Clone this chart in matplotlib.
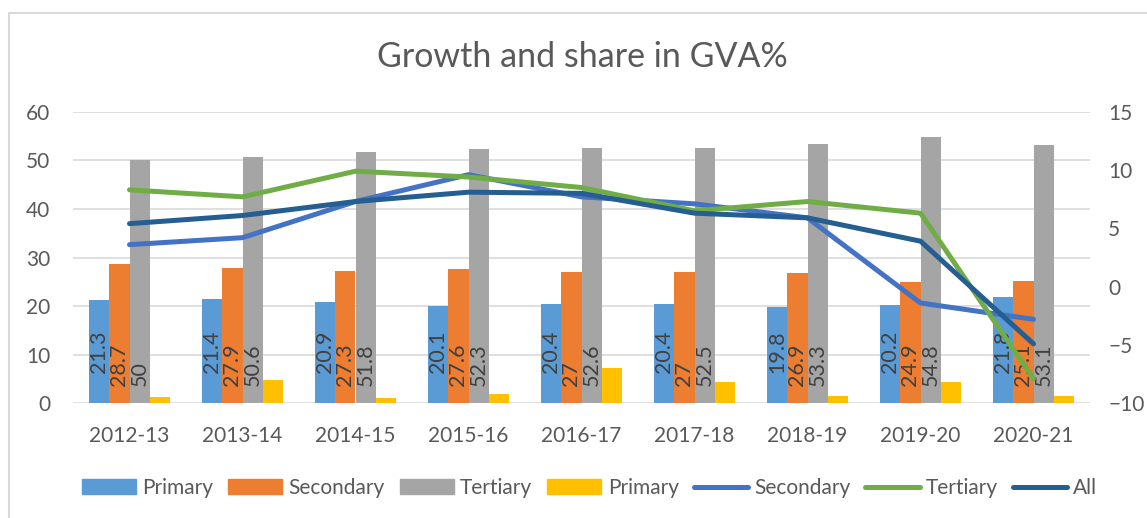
import matplotlib
matplotlib.use("Agg")
import matplotlib.pyplot as plt
import numpy as np
from matplotlib.patches import Rectangle
from matplotlib.lines import Line2D

plt.rcParams['font.family'] = ['Lato', 'DejaVu Sans']

years = ["2012-13", "2013-14", "2014-15", "2015-16", "2016-17",
         "2017-18", "2018-19", "2019-20", "2020-21"]
share_primary = [21.3, 21.4, 20.9, 20.1, 20.4, 20.4, 19.8, 20.2, 21.8]
share_secondary = [28.7, 27.9, 27.3, 27.6, 27.0, 27.0, 26.9, 24.9, 25.1]
share_tertiary = [50.0, 50.6, 51.8, 52.3, 52.6, 52.5, 53.3, 54.8, 53.1]
growth_primary = [1.3, 4.7, 1.1, 2.0, 7.2, 4.4, 1.6, 4.4, 1.6]
growth_secondary = [3.6, 4.2, 7.3, 9.6, 7.7, 7.1, 5.9, -1.4, -2.8]
growth_tertiary = [8.3, 7.7, 9.9, 9.4, 8.5, 6.5, 7.3, 6.3, -7.9]
growth_all = [5.4, 6.1, 7.3, 8.1, 8.0, 6.3, 5.9, 3.9, -4.9]
share_labels = [["21.3", "21.4", "20.9", "20.1", "20.4", "20.4", "19.8", "20.2", "21.8"],
                ["28.7", "27.9", "27.3", "27.6", "27", "27", "26.9", "24.9", "25.1"],
                ["50", "50.6", "51.8", "52.3", "52.6", "52.5", "53.3", "54.8", "53.1"]]

c_blue = "#5B9BD5"
c_orange = "#ED7D31"
c_gray = "#A5A5A5"
c_yellow = "#FFC000"
c_sec = "#4472C4"
c_ter = "#70AD47"
c_all = "#255E91"
txt = "#595959"

fig = plt.figure(figsize=(11.47, 5.18), dpi=100)
ax = fig.add_axes([73/1147, 1-403.3/518, (1090-73)/1147, (403.3-111.7)/518])
ax2 = ax.twinx()

x = np.arange(len(years))
w = 0.18
bar_series = [share_primary, share_secondary, share_tertiary, growth_primary]
bar_colors = [c_blue, c_orange, c_gray, c_yellow]
offs = [-1.5, -0.5, 0.5, 1.5]
for vals, col, o in zip(bar_series, bar_colors, offs):
    ax.bar(x + o*w, vals, width=w, color=col, zorder=2)

lab_off = [30, 17, 17]
for k in range(3):
    for i in range(len(years)):
        ax.annotate(share_labels[k][i], (x[i] + offs[k]*w, 0), xytext=(0, lab_off[k] * 0.72),
                    textcoords='offset points', rotation=90, ha='center', va='bottom',
                    fontsize=15.5, color='#404040', zorder=5)

ax.set_ylim(0, 60)
ax.set_yticks(np.arange(0, 61, 10))
ax.set_xlim(-0.5, len(years) - 0.5)
ax.set_xticks(x)
ax.set_xticklabels(years)
ax.grid(axis='y', color='#D9D9D9', lw=1.2, zorder=0)
ax.set_axisbelow(True)

lw = 3.6
ax2.plot(x, growth_secondary, color=c_sec, lw=lw, zorder=3, solid_capstyle='round')
ax2.plot(x, growth_tertiary, color=c_ter, lw=lw, zorder=3, solid_capstyle='round')
ax2.plot(x, growth_all, color=c_all, lw=lw, zorder=3, solid_capstyle='round')
ax2.set_ylim(-10, 15)
ax2.set_yticks(np.arange(-10, 16, 5))

for a in (ax, ax2):
    for s in a.spines.values():
        s.set_visible(False)
    a.tick_params(length=0, labelsize=15, colors=txt)
ax.tick_params(axis='y', pad=16.5)
ax.tick_params(axis='x', pad=16)
ax2.tick_params(axis='y', pad=13)

fig.text(0.5078, 1-57/518, "Growth and share in GVA%", ha='center', va='center',
         fontsize=24.5, color=txt)

handles = [Rectangle((0, 0), 1, 1, color=c) for c in bar_colors] + \
          [Line2D([0], [0], color=c, lw=lw, solid_capstyle='round') for c in (c_sec, c_ter, c_all)]
labels = ["Primary", "Secondary", "Tertiary", "Primary", "Secondary", "Tertiary", "All"]
fig.legend(handles, labels, loc='center', bbox_to_anchor=(0.514, 1-488/518), ncol=7,
           frameon=False, fontsize=15, labelcolor=txt, handlelength=2.6,
           handleheight=0.7, handletextpad=0.3, columnspacing=0.72)

fig.add_artist(Rectangle((9/1147, -0.1), 1.2, (1-13/518) + 0.1, transform=fig.transFigure,
                         fill=False, edgecolor='#D9D9D9', lw=1.5))

fig.savefig("out.png", dpi=100)
